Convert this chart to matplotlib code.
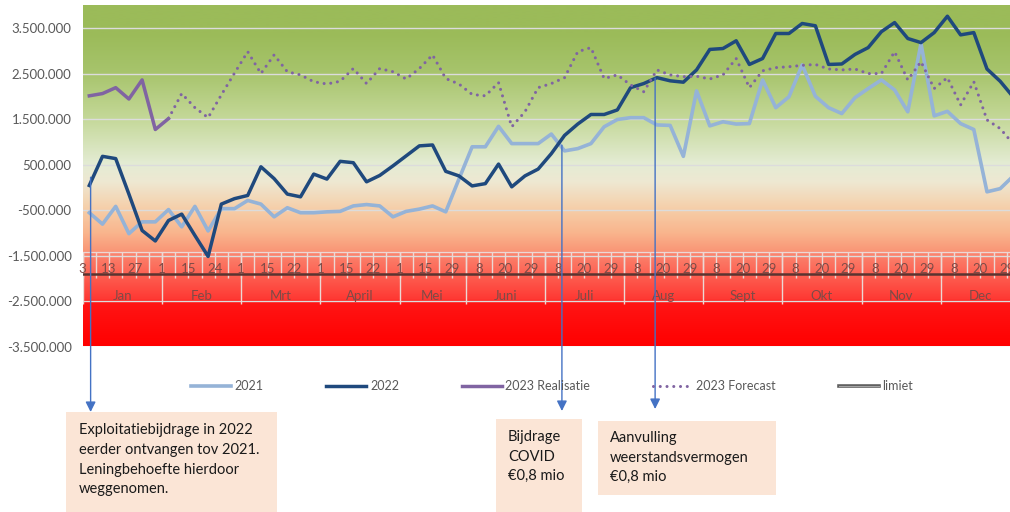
import numpy as np
import matplotlib
matplotlib.use('Agg')
import matplotlib.pyplot as plt
from matplotlib.lines import Line2D
from matplotlib.patches import Rectangle
import matplotlib.patheffects as pe
from matplotlib.ticker import FuncFormatter

plt.rcParams['font.family'] = ['Lato', 'DejaVu Sans']

# ---------------- data ----------------
month_names = ['Jan', 'Feb', 'Mrt', 'April', 'Mei', 'Juni', 'Juli', 'Aug', 'Sept', 'Okt', 'Nov', 'Dec']
month_sizes = [6, 6, 6, 6, 5, 6, 6, 6, 6, 6, 6, 6]
day_labels = ['3', '', '13', '', '27', '',
              '1', '', '15', '', '24', '',
              '1', '', '15', '', '22', '',
              '1', '', '15', '', '22', '',
              '1', '', '15', '', '29',
              '', '8', '', '20', '', '29',
              '', '8', '', '20', '', '29',
              '', '8', '', '20', '', '29',
              '', '8', '', '20', '', '29',
              '', '8', '', '20', '', '29',
              '', '8', '', '20', '', '29',
              '', '8', '', '20', '', '29']

v2021 = [-560000, -810000, -420000, -1020000, -760000, -760000,
         -490000, -870000, -420000, -960000, -470000, -470000,
         -290000, -370000, -650000, -450000, -560000, -560000,
         -540000, -530000, -410000, -380000, -410000, -650000,
         -530000, -480000, -410000, -540000, 180000,
         890000, 890000, 1340000, 960000, 960000, 960000,
         1170000, 800000, 850000, 960000, 1330000, 1490000,
         1530000, 1530000, 1370000, 1360000, 680000, 2120000,
         1350000, 1440000, 1390000, 1400000, 2360000, 1750000,
         1990000, 2690000, 2000000, 1750000, 1620000, 1970000,
         2170000, 2360000, 2140000, 1660000, 3160000, 1570000,
         1670000, 1400000, 1270000, -100000, -30000, 250000]

v2022 = [40000, 680000, 630000, -150000, -950000, -1180000,
         -730000, -590000, -1060000, -1520000, -370000, -250000,
         -180000, 450000, 190000, -150000, -210000, 290000,
         180000, 570000, 540000, 120000, 260000, 470000,
         690000, 910000, 930000, 350000, 250000,
         30000, 80000, 510000, 10000, 250000, 400000,
         740000, 1140000, 1390000, 1600000, 1600000, 1700000,
         2190000, 2280000, 2410000, 2340000, 2310000, 2580000,
         3030000, 3050000, 3220000, 2700000, 2830000, 3380000,
         3380000, 3600000, 3550000, 2700000, 2710000, 2920000,
         3070000, 3420000, 3620000, 3270000, 3180000, 3400000,
         3760000, 3350000, 3400000, 2600000, 2330000, 1980000]

v2023_real = [2010000, 2060000, 2190000, 1940000, 2360000, 1270000, 1510000]

v2023_forecast = [1510000, 2060000, 1750000, 1530000, 2030000, 2510000,
                  2980000, 2500000, 2910000, 2540000, 2470000, 2320000,
                  2270000, 2330000, 2610000, 2280000, 2610000, 2540000,
                  2380000, 2610000, 2910000, 2390000, 2270000,
                  2040000, 2010000, 2300000, 1330000, 1660000, 2190000,
                  2280000, 2410000, 2980000, 3070000, 2390000, 2470000,
                  2250000, 2100000, 2580000, 2470000, 2430000, 2440000,
                  2380000, 2470000, 2830000, 2190000, 2560000, 2630000,
                  2650000, 2680000, 2700000, 2600000, 2580000, 2600000,
                  2500000, 2500000, 2980000, 2360000, 2760000, 2170000,
                  2410000, 1810000, 2320000, 1480000, 1290000, 950000]
forecast_start = 6

limiet = -1900000

series_labels = ['2021', '2022', '2023 Realisatie', '2023 Forecast', 'limiet']

notes = [
    ['Exploitatiebijdrage in 2022', 'eerder ontvangen tov 2021.', 'Leningbehoefte hierdoor', 'weggenomen.'],
    ['Bijdrage', 'COVID', '€0,8 mio'],
    ['Aanvulling', 'weerstandsvermogen', '€0,8 mio'],
]

# ---------------- figure ----------------
W, H = 1010, 512
fig = plt.figure(figsize=(W / 100, H / 100), dpi=100)
fig.patch.set_facecolor('white')

n = len(v2021)
x = np.arange(n)

ax_left, ax_top, ax_right, ax_bottom = 82.7, 5.3, 1020.0, 346.5
ax = fig.add_axes([ax_left / W, 1 - ax_bottom / H, (ax_right - ax_left) / W, (ax_bottom - ax_top) / H])
ymin, ymax = -3500000, 4000000
ax.set_xlim(-0.5, n - 0.5)
ax.set_ylim(ymin, ymax)

# background gradient
stops = [(4.0, (155, 187, 89)), (3.35, (155, 187, 89)), (2.5, (167, 196, 108)),
         (1.5, (196, 216, 152)), (0.5, (228, 236, 212)), (0.1, (238, 232, 210)),
         (-0.5, (246, 206, 168)), (-1.0, (249, 182, 142)), (-1.42, (250, 150, 118)),
         (-1.43, (251, 135, 112)), (-2.49, (255, 55, 50)), (-2.5, (255, 22, 22)),
         (-3.5, (255, 0, 0))]
sv = np.array([s[0] for s in stops])[::-1]
sc = np.array([s[1] for s in stops], dtype=float)[::-1] / 255.0
yy = np.linspace(4.0, -3.5, 800)
img = np.stack([np.interp(yy, sv, sc[:, k]) for k in range(3)], axis=-1)[:, None, :]
ax.imshow(img, extent=[-0.5, n - 0.5, ymin, ymax], aspect='auto', origin='upper', zorder=0,
          interpolation='bilinear')

# gridlines / y axis
yt = np.arange(-3500000, 3500001, 1000000)
ax.set_yticks(yt)
ax.yaxis.set_major_formatter(FuncFormatter(lambda v, p: '{:,.0f}'.format(v).replace(',', '.')))
ax.grid(axis='y', color='#dcdcdc', lw=1.0)
ax.set_axisbelow(True)
ax.tick_params(axis='y', length=0, labelsize=9.5, labelcolor='#595959', pad=8)
ax.set_xticks([])
for s in ax.spines.values():
    s.set_visible(False)

# category axis band
axis_y = -1430000
band_col = '#ecd8d4'
ax.axhline(axis_y, color=band_col, lw=1.0, zorder=1)
bounds = np.arange(n + 1) - 0.5
month_starts = np.concatenate([[0], np.cumsum(month_sizes)])
ax.vlines(bounds, -2000000, axis_y, color=band_col, lw=1.0, zorder=1)
ax.vlines(month_starts - 0.5, -2560000, axis_y, color=band_col, lw=1.0, zorder=1)

lab_col = '#7d4b47'
for i, lab in enumerate(day_labels):
    if lab:
        ax.text(i - 0.5, -1790000, lab, ha='center', va='center', fontsize=9.5,
                color=lab_col, zorder=2)
for k, name in enumerate(month_names):
    c = month_starts[k] + (month_sizes[k] - 1) / 2
    ax.text(c, -2380000, name, ha='center', va='center', fontsize=9.5, color=lab_col, zorder=2)

# limit line
ax.axhline(limiet, color='#5a3430', lw=1.8, zorder=2)

# series
c2021, c2022, cpur = '#95B3D7', '#1F497D', '#8064A2'
ax.plot(x, v2021, color=c2021, lw=2.6, zorder=3)
ax.plot(x, v2022, color=c2022, lw=2.5, zorder=4)
ax.plot(x[:len(v2023_real)], v2023_real, color=cpur, lw=2.5, zorder=5)
xf = np.arange(forecast_start, forecast_start + len(v2023_forecast))
ax.plot(xf, v2023_forecast, color=cpur, lw=2.2, dashes=(0.01, 2.2), dash_capstyle='round', zorder=5)

# legend
handles = [Line2D([], [], color=c2021, lw=2.6),
           Line2D([], [], color=c2022, lw=2.5),
           Line2D([], [], color=cpur, lw=2.5),
           Line2D([], [], color=cpur, lw=2.2, dashes=(0.01, 2.2), dash_capstyle='round'),
           Line2D([], [], color='#595959', lw=2.6,
                  path_effects=[pe.Stroke(linewidth=2.6, foreground='#606060'),
                                pe.Stroke(linewidth=0.7, foreground='#a8a8a8')])]
fig.legend(handles, series_labels, loc='center', bbox_to_anchor=(552 / W, 1 - 386 / H), ncol=5,
           frameon=False, fontsize=9, labelcolor='#595959', handlelength=3.2,
           handletextpad=0.3, columnspacing=5.0)

# note boxes
box_px = [(66, 412, 277, 512), (496, 419, 582, 512), (598, 421, 776, 495)]
text_px = [(79, [430, 450, 470, 489]), (508, [437, 457, 476]), (610, [438, 458, 477])]
for (x0, y0, x1, y1), (tx, tys), lines in zip(box_px, text_px, notes):
    fig.add_artist(Rectangle((x0 / W, 1 - y1 / H), (x1 - x0) / W, (y1 - y0) / H,
                             transform=fig.transFigure, facecolor='#FBE5D6', edgecolor='none', zorder=1))
    for ty, line in zip(tys, lines):
        fig.text(tx / W, 1 - ty / H, line, ha='left', va='center', fontsize=10.5, color='#1a1a1a', zorder=2)

# arrows
arrows = [(0.1, 220000, 100), (35.8, 925000, 101), (42.86, 2400000, 103)]
for ax_x, start_v, end_px in arrows:
    ax.annotate('', xy=(ax_x, end_px), xycoords=('data', 'figure pixels'),
                xytext=(ax_x, start_v), textcoords='data',
                arrowprops=dict(arrowstyle='-|>,head_length=0.6,head_width=0.3', color='#4472C4',
                                lw=1.0, shrinkA=0, shrinkB=0, mutation_scale=10),
                annotation_clip=False, zorder=10)

fig.savefig('out.png', dpi=100)
